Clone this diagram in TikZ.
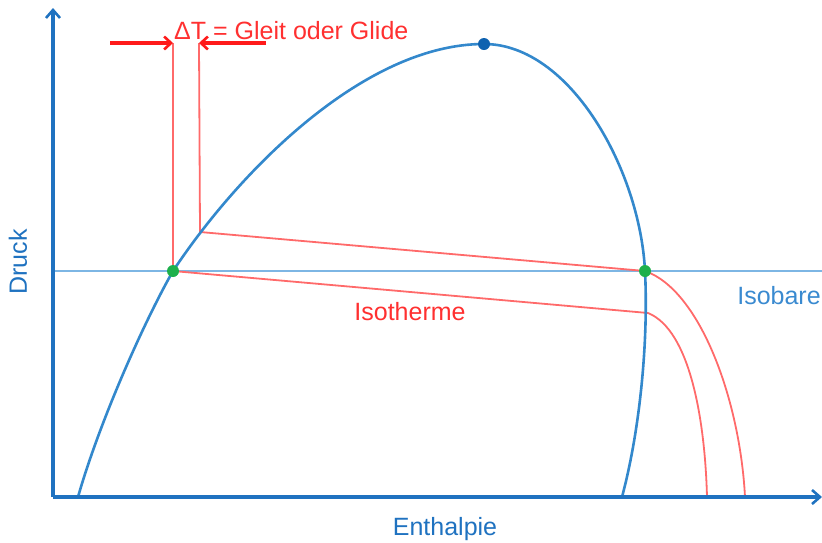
\documentclass[tikz,border=0pt]{standalone}
\usepackage{fontspec}
\setmainfont{Liberation Sans}
\usetikzlibrary{arrows.meta}
\definecolor{axisblue}{HTML}{1F72C0}
\definecolor{domeblue}{HTML}{3388CC}
\definecolor{isoblue}{HTML}{7DB6E4}
\definecolor{txtblue}{HTML}{3A8AD0}
\definecolor{linered}{HTML}{FF6A6A}
\definecolor{arrred}{HTML}{FF1A1A}
\definecolor{txtred}{HTML}{FF3030}
\definecolor{dotgreen}{HTML}{1DB04B}
\definecolor{dotblue}{HTML}{0F62B0}
\begin{document}
\begin{tikzpicture}[x=1pt,y=-1pt,
  axisline/.style={draw=axisblue,line width=3.6pt,-{Straight Barb[length=8pt,width=14pt,line width=2.6pt]}},
  domeline/.style={draw=domeblue,line width=2.6pt},
  isoline/.style={draw=isoblue,line width=2pt},
  redline/.style={draw=linered,line width=1.8pt},
  redarrow/.style={draw=arrred,line width=3.4pt,-{Straight Barb[length=7pt,width=13pt,line width=2.6pt]}},
  lbl/.style={font=\fontsize{25}{28}\selectfont,inner sep=0pt},
  dot/.style={circle,inner sep=0pt,minimum size=12pt}]
\useasboundingbox (0,0) rectangle (822,542);
% axes
\coordinate (O) at (53,497);
\coordinate (ytop) at (53,8);
\coordinate (xend) at (822,497);
% isobar
\coordinate (isoL) at (53,271);
\coordinate (isoR) at (822,271);
\draw[isoline] (isoL) -- (isoR);
% red isotherm lines
\coordinate (A) at (173,271);
\coordinate (B) at (200,232);
\coordinate (C) at (645,271);
\coordinate (D) at (648,313);
\coordinate (At) at (173,43);
\coordinate (Bt) at (199,43);
\draw[redline] (A) -- (At);
\draw[redline] (B) -- (Bt);
\draw[redline] (B) -- (C);
\draw[redline] (A) -- (D);
\draw[redline] (C) .. controls (700,290) and (740,400) .. (745,497);
\draw[redline] (D) .. controls (690,330) and (705,420) .. (707,497);
% dome
\coordinate (cpt) at (484,44);
\draw[domeline] (78,497) .. controls (100,420) and (145,320) .. (A)
  .. controls (240,170) and (365,44) .. (cpt)
  .. controls (570,44) and (640,170) .. (C)
  .. controls (648.5,341) and (640,430) .. (622,497);
% axes on top
\draw[axisline] (O) -- (ytop);
\draw[axisline] (O) -- (xend);
% dots
\node[dot,fill=dotgreen] (dA) at (A) {};
\node[dot,fill=dotgreen] (dC) at (C) {};
\node[dot,fill=dotblue] (cp) at (cpt) {};
% delta T arrows
\coordinate (la) at (110,43);
\coordinate (ra) at (266,43);
\draw[redarrow] (la) -- (At);
\draw[redarrow] (ra) -- (Bt);
% labels
\node[lbl,text=txtred,anchor=base west] (dt) at (174,39) {ΔT = Gleit oder Glide};
\node[lbl,text=txtred] (iso) at (410,312) {Isotherme};
\node[lbl,text=txtblue] (isob) at (779,296) {Isobare};
\node[lbl,text=axisblue,rotate=90] (druck) at (18,262) {Druck};
\node[lbl,text=axisblue] (enth) at (445,529) {Enthalpie};
\end{tikzpicture}
\end{document}
